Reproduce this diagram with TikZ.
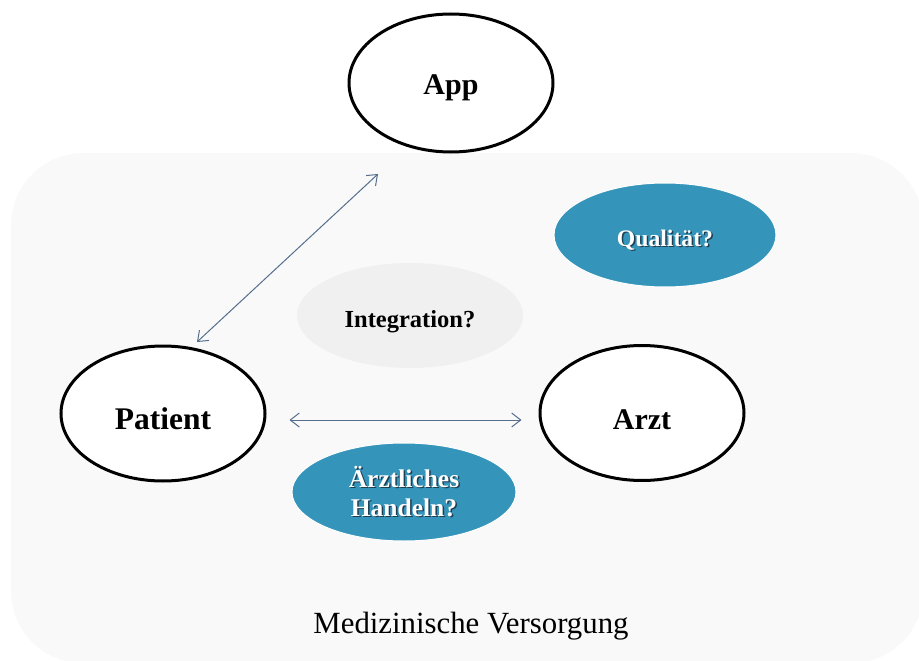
\documentclass[tikz,border=0pt]{standalone}
\usepackage{fontspec}
\setmainfont{Liberation Serif}
\usetikzlibrary{shapes.geometric,arrows.meta}
\definecolor{bgc}{RGB}{249,249,250}
\definecolor{intc}{RGB}{240,240,240}
\definecolor{bluec}{RGB}{52,148,186}
\definecolor{arrc}{RGB}{84,110,140}
\definecolor{shc}{RGB}{30,62,82}
\newcommand\shtxt[1]{\makebox[0pt][l]{\raisebox{-1.5pt}{\hspace{1.5pt}\textcolor{shc}{#1}}}\textcolor{white}{#1}}
\tikzset{
  mainell/.style={ellipse, draw=black, line width=3pt, fill=white, inner sep=0pt,
    minimum width=204pt, minimum height=136pt, font=\fontsize{30}{34}\selectfont\bfseries, text depth=0pt},
  blueell/.style={ellipse, draw=white, line width=1pt, fill=bluec, inner sep=0pt,
    minimum width=222pt, minimum height=104pt, align=center},
  grayell/.style={ellipse, fill=intc, inner sep=0pt, minimum width=226pt, minimum height=105pt,
    font=\fontsize{24.5}{28}\selectfont\bfseries, text depth=0pt},
  link/.style={draw=arrc, line width=1pt, {Straight Barb[length=9pt,width=14pt]}-{Straight Barb[length=9pt,width=14pt]}}
}
\begin{document}
\begin{tikzpicture}[x=1pt,y=-1pt]
\useasboundingbox (0,0) rectangle (919,661);
\clip (0,0) rectangle (919,661);
\fill[white] (0,0) rectangle (919,661);
\node[draw=none, fill=bgc, rounded corners=72pt, minimum width=912pt, minimum height=510pt, anchor=north west, inner sep=0pt] (area) at (11,153) {};
\node[grayell, text height=23pt] (integ) at (410,315.5) {Integration?};
\node[blueell, font=\fontsize{23.7}{28}\selectfont\bfseries, text height=22pt, text depth=0pt] (qual) at (665,235) {\shtxt{Qualität?}};
\node[blueell, minimum width=224pt, minimum height=98pt, font=\fontsize{25.5}{29}\selectfont\bfseries] (aerzt) at (404,492) {\shtxt{Ärztliches}\\\shtxt{Handeln?}};
\node[mainell, minimum height=138pt, text height=24pt] (app) at (451,83) {App};
\node[mainell, minimum height=135pt, text height=31pt, font=\fontsize{31.5}{34}\selectfont\bfseries] (patient) at (163,413.5) {Patient};
\node[mainell, minimum height=135pt, text height=32pt] (arzt) at (642,413) {Arzt};
\node[anchor=base, font=\fontsize{30.8}{34}\selectfont] (label) at (471,633) {Medizinische Versorgung};
\coordinate (pa) at (197,342);
\coordinate (aa) at (378,174);
\draw[link] (pa) -- (aa);
\draw[link, shorten <=23pt, shorten >=17pt] (patient.east |- 0,420) -- (arzt.west |- 0,420);
\end{tikzpicture}
\end{document}
